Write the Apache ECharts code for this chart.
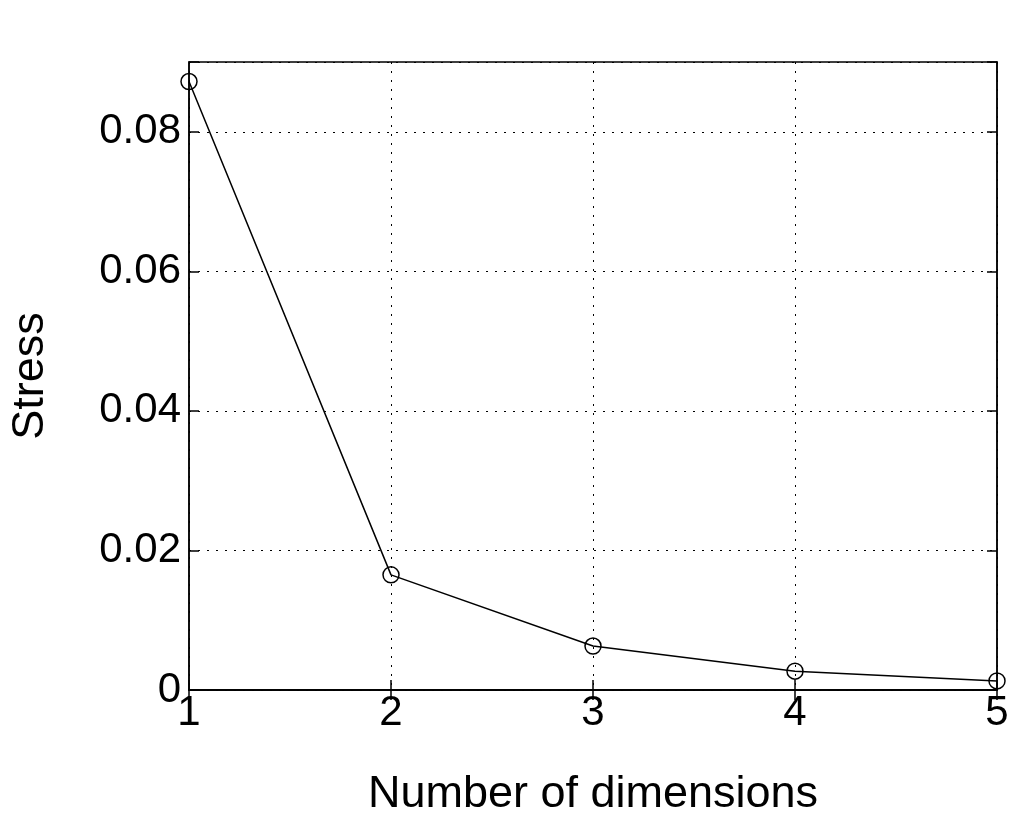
<!DOCTYPE html><html><head><meta charset="utf-8">
<script src="https://cdn.jsdelivr.net/npm/echarts@6/dist/echarts.min.js"></script>
<style>html,body{margin:0;background:#fff}#c{width:1024px;height:822px}</style></head><body><div id="c"></div>
<script>
const dims = [1, 2, 3, 4, 5];
const stress = [0.0872, 0.0165, 0.0063, 0.0027, 0.0013];
const yTicks = [0, 0.02, 0.04, 0.06, 0.08];
const ch = echarts.init(document.getElementById('c'));
const font = 'Liberation Sans, Arial, sans-serif';
const line = {lineStyle:{color:'#000',width:1.5}};
const grid = {show:true,lineStyle:{color:'#000',type:[2,7],width:1}};
ch.setOption({
 animation:false,
 grid:{left:186,right:27,top:62,bottom:120,show:true,borderColor:'#000',borderWidth:1.5},
 xAxis:[{type:'value',min:1,max:5,interval:1,axisLine:line,axisTick:{inside:true,length:10,lineStyle:{color:'#000',width:1.5}},
  splitLine:grid,axisLabel:{color:'#000',fontSize:42,fontFamily:font,margin:2},
  name:'Number of dimensions',nameLocation:'middle',nameGap:82,nameTextStyle:{color:'#000',fontSize:45,fontFamily:font}},
  {type:'value',position:'top',min:1,max:5,interval:1,axisLine:line,axisTick:{inside:true,length:10,lineStyle:{color:'#000',width:1.5}},axisLabel:{show:false},splitLine:{show:false}}],
 yAxis:[{type:'value',min:0,max:0.09,interval:0.02,axisLine:line,axisTick:{inside:true,length:10,lineStyle:{color:'#000',width:1.5}},
  splitLine:grid,axisLabel:{color:'#000',fontSize:42,fontFamily:font,margin:8,
   formatter:v=>{const t=yTicks.find(x=>Math.abs(x-v)<1e-9);return t===undefined?'':(t===0?'0':t.toFixed(2));}},
  name:'Stress',nameLocation:'middle',nameGap:136,nameTextStyle:{color:'#000',fontSize:45,fontFamily:font}},
  {type:'value',position:'right',min:0,max:0.09,interval:0.02,axisLine:line,axisTick:{inside:true,length:10,lineStyle:{color:'#000',width:1.5}},axisLabel:{show:false},splitLine:{show:false}}],
 series:[{type:'line',data:dims.map((d,i)=>[d,stress[i]]),symbol:'circle',symbolSize:16,
  itemStyle:{color:'rgba(0,0,0,0)',borderColor:'#000',borderWidth:1.5},lineStyle:{color:'#000',width:1.5},clip:false}]
});
</script></body></html>
